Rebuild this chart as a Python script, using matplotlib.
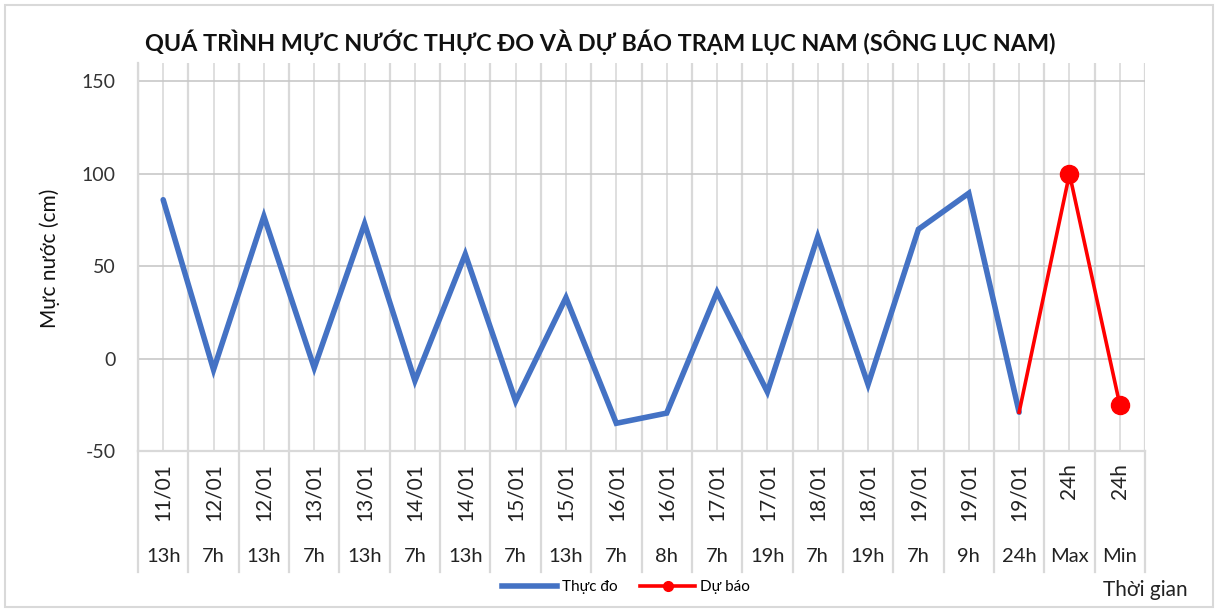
import numpy as np
import matplotlib.pyplot as plt
import matplotlib.transforms as mtransforms
from matplotlib.lines import Line2D
from matplotlib.patches import Rectangle

plt.rcParams['font.family'] = ['Lato', 'DejaVu Sans']
plt.rcParams['axes.unicode_minus'] = False

# Data
dates = ['11/01', '12/01', '12/01', '13/01', '13/01', '14/01', '14/01', '15/01',
         '15/01', '16/01', '16/01', '17/01', '17/01', '18/01', '18/01', '19/01',
         '19/01', '19/01', '24h', '24h']
hours = ['13h', '7h', '13h', '7h', '13h', '7h', '13h', '7h', '13h', '7h', '8h',
         '7h', '19h', '7h', '19h', '7h', '9h', '24h', 'Max', 'Min']
thuc_do = [86, -6, 77, -5, 73, -12, 56.5, -23, 33, -35, -29.5, 36, -18, 66, -14,
           70, 89.5, -29]
du_bao = [-29, 100, -25]
du_bao_start = 17

blue = '#4472C4'
red = '#FF0000'
grid_c = '#d9d9d9'

fig = plt.figure(figsize=(12.15, 6.1), dpi=100)
ax = fig.add_axes([138 / 1215, 1 - 451 / 610, 1007 / 1215, 388 / 610])

n = len(hours)
x = np.arange(n)

# Plot series
ax.plot(x[:len(thuc_do)], thuc_do, color=blue, lw=4, solid_capstyle='round',
        solid_joinstyle='miter', zorder=3)
x_db = x[du_bao_start:du_bao_start + len(du_bao)]
ax.plot(x_db, du_bao, color=red, lw=2.6, marker='o', ms=13, markevery=[1, 2],
        zorder=4)

# Axes limits / grid
ax.set_xlim(-0.5, n - 0.5)
ax.set_ylim(-50, 160)
ax.set_yticks([-50, 0, 50, 100, 150])
ax.tick_params(axis='y', length=0, labelsize=14, pad=16, labelcolor='#333333')
ax.set_xticks(x)
ax.set_xticks(np.arange(n + 1) - 0.5, minor=True)
ax.tick_params(axis='x', which='both', length=0, labelbottom=False)
ax.grid(True, axis='y', color='#c8c8c8', lw=1.2)
ax.grid(True, axis='x', which='major', color=grid_c, lw=1.2)
ax.grid(True, axis='x', which='minor', color=grid_c, lw=1.6)
ax.set_axisbelow(True)
for s in ['top', 'right', 'bottom']:
    ax.spines[s].set_visible(False)
ax.spines['left'].set_color(grid_c)
ax.spines['left'].set_linewidth(1.6)

# Multi-level category labels below the axis
trans = mtransforms.blended_transform_factory(ax.transData, ax.transAxes)
ax_h = 388
sep_bottom = -(572 - 451) / ax_h
ax.plot([-0.5, n - 0.5], [0, 0], transform=trans, color=grid_c, lw=1.6,
        clip_on=False)
for b in np.arange(n + 1) - 0.5:
    ax.plot([b, b], [0, sep_bottom], transform=trans, color=grid_c, lw=1.6,
            clip_on=False)
for i in range(n):
    ax.text(x[i], -(463 - 451) / ax_h, dates[i], transform=trans, rotation=90,
            ha='center', va='top', fontsize=15, color='#222222')
    ax.text(x[i], -(557 - 451) / ax_h, hours[i], transform=trans,
            ha='center', va='center', fontsize=14.5, color='#222222')

# Titles and labels
fig.text(600 / 1215, 1 - 42 / 610,
         'QUÁ TRÌNH MỰC NƯỚC THỰC ĐO VÀ DỰ BÁO TRẠM LỤC NAM (SÔNG LỤC NAM)',
         ha='center', va='center', fontsize=16.8, fontweight='bold', color='#111111')
fig.text(50 / 1215, 1 - 258 / 610, 'Mực nước (cm)', rotation=90,
         ha='center', va='center', fontsize=15, color='#111111')
fig.text(1145 / 1215, 1 - 590 / 610, 'Thời gian', ha='center', va='center',
         fontsize=15, color='#222222')

# Legend
handles = [Line2D([], [], color=blue, lw=4),
           Line2D([], [], color=red, lw=2.6, marker='o', ms=7)]
fig.legend(handles, ['Thực đo', 'Dự báo'], loc='center',
           bbox_to_anchor=(626 / 1215, 1 - 587 / 610), ncol=2, frameon=False,
           fontsize=11, handlelength=3.6, handletextpad=0.3, columnspacing=1.5)

# Chart border
fig.patches.append(Rectangle((5 / 1215, 3 / 610), 1208 / 1215, 602 / 610,
                             transform=fig.transFigure, fill=False,
                             edgecolor='#d9d9d9', lw=1.5))

fig.savefig('out.png', dpi=100)
